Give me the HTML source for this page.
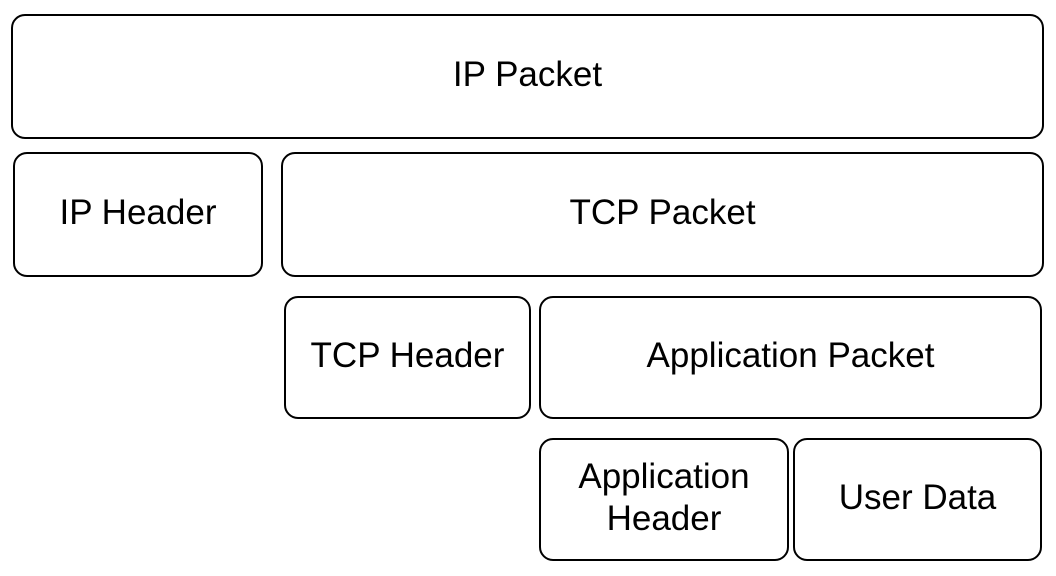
<!DOCTYPE html>
<html><head><meta charset="utf-8"><style>
body{margin:0;width:1056px;height:576px;background:#fff;position:relative;overflow:hidden;font-family:"Liberation Sans",sans-serif;}
.b{position:absolute;box-sizing:border-box;border:2px solid #000;border-radius:14px;display:flex;align-items:center;justify-content:center;text-align:center;font-size:35px;line-height:42px;color:#000;padding-bottom:4px;}
</style></head><body>
<div class="b" style="left:11px;top:14px;width:1033px;height:125px;">IP Packet</div>
<div class="b" style="left:13px;top:152px;width:250px;height:125px;">IP Header</div>
<div class="b" style="left:281px;top:152px;width:763px;height:125px;">TCP Packet</div>
<div class="b" style="left:284px;top:296px;width:247px;height:123px;">TCP Header</div>
<div class="b" style="left:539px;top:296px;width:503px;height:123px;">Application Packet</div>
<div class="b" style="left:539px;top:438px;width:250px;height:123px;">Application<br>Header</div>
<div class="b" style="left:793px;top:438px;width:249px;height:123px;">User Data</div>
</body></html>
